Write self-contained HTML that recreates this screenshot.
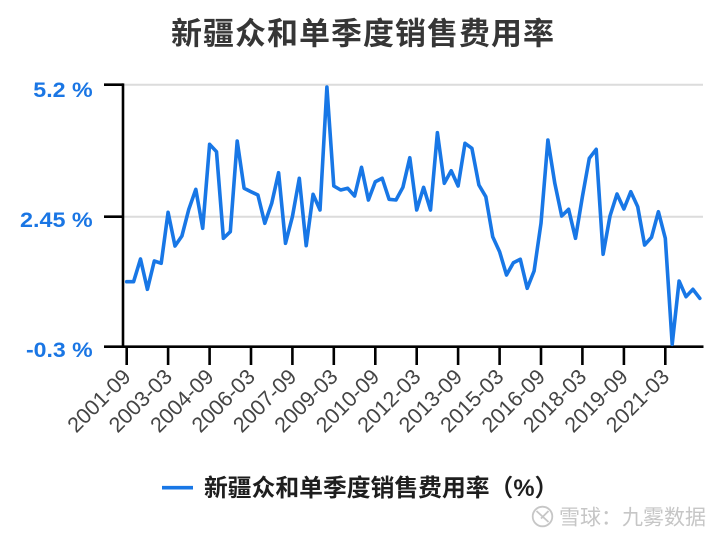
<!DOCTYPE html>
<html>
<head>
<meta charset="utf-8">
<style>
  html, body { margin: 0; padding: 0; background: #ffffff; }
  svg { display: block; }
</style>
</head>
<body>
<svg width="724" height="540" viewBox="0 0 724 540" xmlns="http://www.w3.org/2000/svg">
  <rect width="724" height="540" fill="#ffffff"/>

  <!-- Title -->
  <text x="171" y="44.5" font-family="'Liberation Sans','Noto Sans CJK SC',sans-serif" font-size="31" font-weight="bold" fill="#363636" textLength="383" lengthAdjust="spacing">新疆众和单季度销售费用率</text>

  <!-- Gridlines -->
  <line x1="124" y1="84.7" x2="703" y2="84.7" stroke="#dcdcdc" stroke-width="2"/>
  <line x1="124" y1="216.7" x2="703" y2="216.7" stroke="#dcdcdc" stroke-width="2"/>

  <!-- Y axis labels -->
  <g font-family="'Liberation Sans',sans-serif" font-size="21" font-weight="bold" fill="#1a76e4">
    <text x="33.3" y="97" textLength="59.4" lengthAdjust="spacingAndGlyphs">5.2 %</text>
    <text x="20" y="227" textLength="72.7" lengthAdjust="spacingAndGlyphs">2.45 %</text>
    <text x="26" y="357" textLength="66.7" lengthAdjust="spacingAndGlyphs">-0.3 %</text>
  </g>

  <!-- Axes -->
  <g stroke="#000" stroke-width="2.6" fill="none">
    <line x1="104" y1="84.7" x2="123" y2="84.7"/>
    <line x1="104" y1="216.7" x2="123" y2="216.7"/>
    <line x1="104" y1="346.7" x2="703.5" y2="346.7"/>
    <line x1="123" y1="83.4" x2="123" y2="348"/>
    <line x1="126.7" y1="346.7" x2="126.7" y2="365"/>
    <line x1="168.1" y1="346.7" x2="168.1" y2="365"/>
    <line x1="209.6" y1="346.7" x2="209.6" y2="365"/>
    <line x1="251.0" y1="346.7" x2="251.0" y2="365"/>
    <line x1="292.4" y1="346.7" x2="292.4" y2="365"/>
    <line x1="333.8" y1="346.7" x2="333.8" y2="365"/>
    <line x1="375.3" y1="346.7" x2="375.3" y2="365"/>
    <line x1="416.7" y1="346.7" x2="416.7" y2="365"/>
    <line x1="458.1" y1="346.7" x2="458.1" y2="365"/>
    <line x1="499.6" y1="346.7" x2="499.6" y2="365"/>
    <line x1="541.0" y1="346.7" x2="541.0" y2="365"/>
    <line x1="582.4" y1="346.7" x2="582.4" y2="365"/>
    <line x1="623.9" y1="346.7" x2="623.9" y2="365"/>
    <line x1="665.3" y1="346.7" x2="665.3" y2="365"/>
  </g>

  <!-- X labels -->
  <g font-family="'Liberation Sans',sans-serif" font-size="21.5" fill="#444444" text-anchor="end">
    <text transform="translate(132,378) rotate(-45)">2001-09</text>
    <text transform="translate(173.4,378) rotate(-45)">2003-03</text>
    <text transform="translate(214.9,378) rotate(-45)">2004-09</text>
    <text transform="translate(256.3,378) rotate(-45)">2006-03</text>
    <text transform="translate(297.7,378) rotate(-45)">2007-09</text>
    <text transform="translate(339.1,378) rotate(-45)">2009-03</text>
    <text transform="translate(380.6,378) rotate(-45)">2010-09</text>
    <text transform="translate(422.0,378) rotate(-45)">2012-03</text>
    <text transform="translate(463.4,378) rotate(-45)">2013-09</text>
    <text transform="translate(504.9,378) rotate(-45)">2015-03</text>
    <text transform="translate(546.3,378) rotate(-45)">2016-09</text>
    <text transform="translate(587.7,378) rotate(-45)">2018-03</text>
    <text transform="translate(629.2,378) rotate(-45)">2019-09</text>
    <text transform="translate(670.6,378) rotate(-45)">2021-03</text>
  </g>

  <!-- Data line -->
  <polyline fill="none" stroke="#1877e6" stroke-width="3.6" stroke-linejoin="round" stroke-linecap="round"
    points="126.7,281.7 133.6,281.7 140.5,259 147.4,289.3 154.3,261 161.2,263.3 168.1,212.3 175.0,246 181.9,236 188.8,209.3 195.8,189.3 202.7,228.3 209.6,144.3 216.5,151.7 223.4,238.3 230.3,231.7 237.2,141 244.1,188.3 251.0,191.7 257.9,195 264.8,223.3 271.7,203.3 278.6,172.7 285.5,243.3 292.4,216.7 299.3,178.3 306.2,245.7 313.1,194.3 320.0,210 326.9,87 333.8,186 340.7,190 347.7,188.3 354.6,196 361.5,167.3 368.4,200 375.3,181.7 382.2,178.3 389.1,199.3 396.0,200 402.9,187.3 409.8,157.7 416.7,210 423.6,187.3 430.5,210 437.4,132.7 444.3,183.3 451.2,170.7 458.1,186 465.0,143.3 471.9,148.3 478.9,185 485.8,196.7 492.7,236.7 499.6,251.7 506.5,275 513.4,262.7 520.3,259.3 527.2,288.3 534.1,271 541.0,223.3 547.9,140 554.8,183.3 561.7,216 568.6,209.3 575.5,238.3 582.4,196.7 589.3,158.3 596.2,149.3 603.1,254.3 610.0,216 617.0,194 623.9,209 630.8,191.7 637.7,206.7 644.6,245 651.5,237.3 658.4,211.7 665.3,238.3 672.2,344.3 679.1,281 686.0,296.7 692.9,289.3 699.8,298.3"/>

  <!-- Legend -->
  <line x1="162" y1="487.7" x2="193" y2="487.7" stroke="#1877e6" stroke-width="3.6"/>
  <text x="204" y="496" font-family="'Liberation Sans','Noto Sans CJK SC',sans-serif" font-size="23.8" font-weight="bold" fill="#1e1e1e">新疆众和单季度销售费用率（%）</text>

  <!-- Watermark -->
  <g>
    <circle cx="542.5" cy="516.5" r="9.8" fill="none" stroke="#c6c6c6" stroke-width="1.8"/>
    <path d="M536.5,511 L548.5,522 M548.5,511 L541,518.5" fill="none" stroke="#c6c6c6" stroke-width="1.8"/>
    <text x="559" y="524.5" font-family="'Liberation Sans','Noto Sans CJK SC',sans-serif" font-size="21" fill="#c6c6c6">雪球：九雾数据</text>
  </g>
</svg>
</body>
</html>
